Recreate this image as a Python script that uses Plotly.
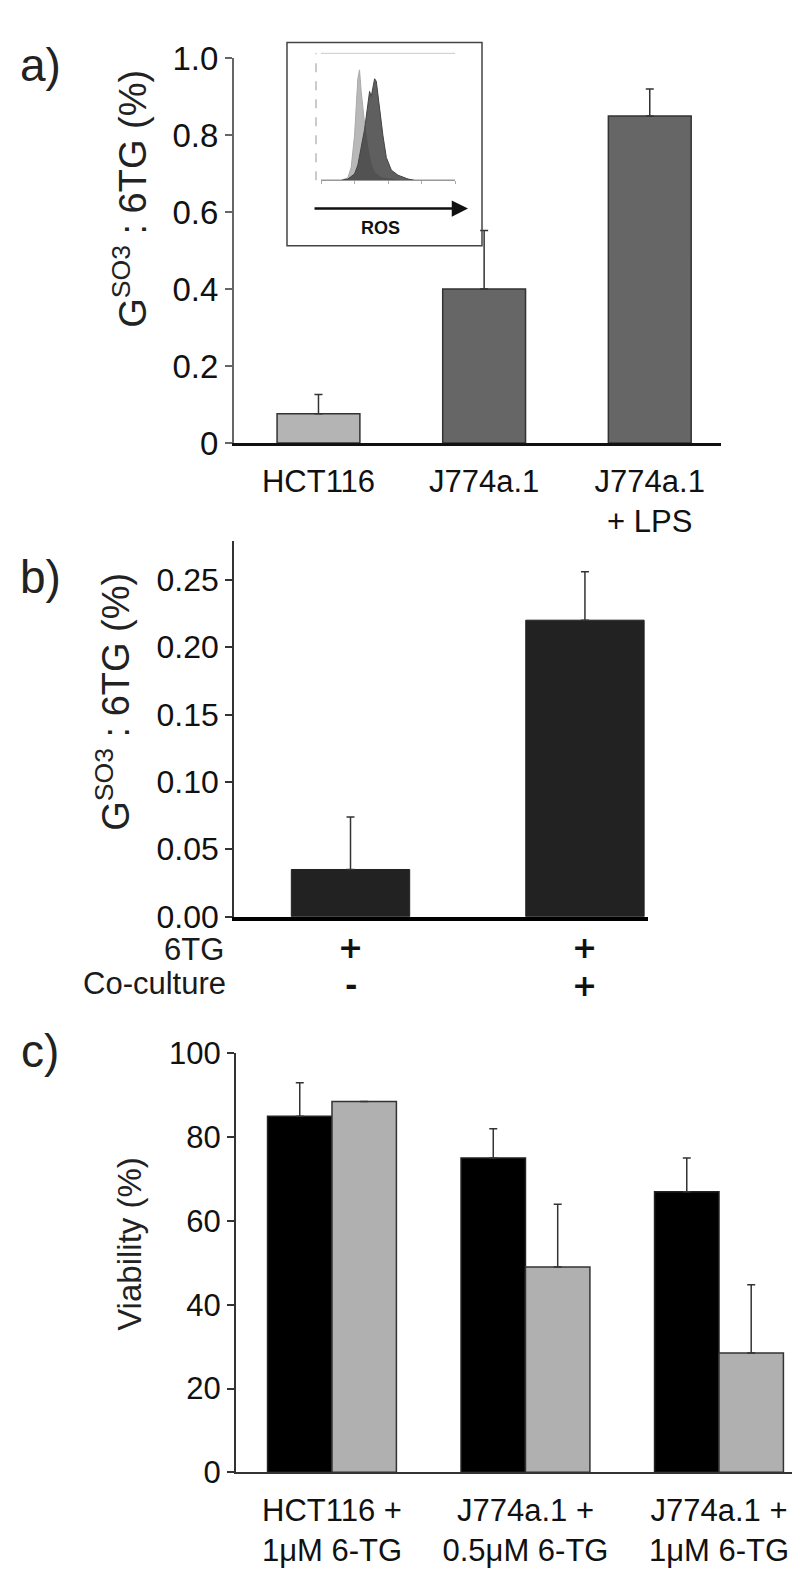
import plotly.graph_objects as go

# ---- data ----
# a) GSO3 : 6TG (%)
cells_a = ["HCT116", "J774a.1", "J774a.1<br>+ LPS"]
gso3_a = [0.076, 0.40, 0.85]
gso3_a_err = [0.05, 0.152, 0.07]
colors_a = ["#b4b4b4", "#666666", "#666666"]
yticks_a = [0, 0.2, 0.4, 0.6, 0.8, 1.0]
yticktext_a = ["0", "0.2", "0.4", "0.6", "0.8", "1.0"]

# inset: ROS flow histogram (log10 fluorescence, normalised counts)
ros_ctrl_x = [0.0, 0.6, 0.8, 0.9, 1.0, 1.05, 1.1, 1.15, 1.2, 1.3, 1.4, 1.5, 1.6, 1.8, 2.0, 2.3, 4.0]
ros_ctrl_y = [0.0, 0.0, 0.02, 0.1, 0.35, 0.6, 0.8, 0.87, 0.7, 0.45, 0.25, 0.12, 0.06, 0.02, 0.01, 0.0, 0.0]
ros_lps_x = [0.0, 0.6, 0.8, 1.0, 1.1, 1.2, 1.3, 1.4, 1.45, 1.5, 1.55, 1.6, 1.65, 1.75, 1.85, 1.95, 2.1, 2.3, 2.6, 2.8, 4.0]
ros_lps_y = [0.0, 0.0, 0.01, 0.05, 0.12, 0.25, 0.4, 0.6, 0.7, 0.66, 0.72, 0.8, 0.78, 0.55, 0.35, 0.18, 0.08, 0.04, 0.01, 0.0, 0.0]

# b) co-culture
samples_b = ["6TG only", "6TG + co-culture"]
sixtg_row = ["+", "+"]
coculture_row = ["-", "+"]
gso3_b = [0.035, 0.22]
gso3_b_err = [0.039, 0.036]
yticks_b = [0, 0.05, 0.10, 0.15, 0.20, 0.25]

# c) viability
groups_c = ["HCT116 +<br>1\u03bcM 6-TG", "J774a.1 +<br>0.5\u03bcM 6-TG", "J774a.1 +<br>1\u03bcM 6-TG"]
viab_black = [85, 75, 67]
viab_black_err = [8, 7, 8]
viab_gray = [88.5, 49, 28.5]
viab_gray_err = [0, 15, 16.3]
yticks_c = [0, 20, 40, 60, 80, 100]

# ---- layout helpers (pixel -> paper) ----
W, H = 800, 1581
FONT = "Liberation Sans, Arial, sans-serif"


def px(x):
    return x / W


def py(y):
    return 1 - y / H


def note(x, y, text, size, **kw):
    fig.add_annotation(x=px(x), y=py(y), xref="paper", yref="paper", text=text, showarrow=False,
                       xanchor=kw.pop("xanchor", "center"), yanchor="middle",
                       font=dict(size=size, color=kw.pop("color", "#1a1a1a")), **kw)


err_style = dict(type="data", symmetric=False, color="#333", thickness=1.5, width=4)

fig = go.Figure()

# a)
fig.add_trace(go.Bar(x=cells_a, y=gso3_a, width=0.5, marker=dict(color=colors_a, line=dict(color="#333", width=1.5)),
                     error_y=dict(array=gso3_a_err, arrayminus=[0] * 3, **err_style), xaxis="x", yaxis="y"))
# b)
fig.add_trace(go.Bar(x=samples_b, y=gso3_b, width=0.505, marker=dict(color="#222222", line=dict(color="#222", width=1)),
                     error_y=dict(array=gso3_b_err, arrayminus=[0] * 2, **err_style), xaxis="x2", yaxis="y2"))
# c)
fig.add_trace(go.Bar(x=groups_c, y=viab_black, width=0.333, offset=-0.333,
                     marker=dict(color="#000000", line=dict(color="#222", width=1.5)),
                     error_y=dict(array=viab_black_err, arrayminus=[0] * 3, **err_style), xaxis="x3", yaxis="y3"))
fig.add_trace(go.Bar(x=groups_c, y=viab_gray, width=0.333, offset=0,
                     marker=dict(color="#b0b0b0", line=dict(color="#333", width=1.5)),
                     error_y=dict(array=viab_gray_err, arrayminus=[0] * 3, **err_style), xaxis="x3", yaxis="y3"))
# inset histograms
fig.add_trace(go.Scatter(x=ros_ctrl_x, y=ros_ctrl_y, mode="lines", fill="tozeroy", line=dict(color="#aaaaaa", width=1),
                         fillcolor="#b8b8b8", xaxis="x4", yaxis="y4"))
fig.add_trace(go.Scatter(x=ros_lps_x, y=ros_lps_y, mode="lines", fill="tozeroy", line=dict(color="#444", width=1),
                         fillcolor="rgba(60,60,60,0.82)", xaxis="x4", yaxis="y4"))

yax_common = dict(showgrid=False, zeroline=False, showline=True, ticks="outside", ticklen=7, tickwidth=1.5)
xax_common = dict(showgrid=False, zeroline=False, showline=True, ticks="", type="category")

fig.update_layout(
    width=W, height=H, margin=dict(l=0, r=0, t=0, b=0),
    paper_bgcolor="white", plot_bgcolor="white", showlegend=False,
    font=dict(family=FONT, color="#111"),
    xaxis=dict(domain=[px(226), px(713)], range=[-0.51, 2.43], anchor="y", linecolor="#111", linewidth=2.5,
               tickfont=dict(size=31), ticklabelstandoff=9, **xax_common),
    yaxis=dict(domain=[py(427), py(33)], range=[0, 1], anchor="x", linecolor="#666", linewidth=2, tickcolor="#666",
               tickvals=yticks_a, ticktext=yticktext_a, tickfont=dict(size=33), **yax_common),
    xaxis2=dict(domain=[px(226), px(640)], range=[-0.497, 1.269], anchor="y2", linecolor="#000", linewidth=3.5,
                showticklabels=False, **xax_common),
    yaxis2=dict(domain=[py(912), py(527)], range=[0, 0.279], anchor="x2", linecolor="#333", linewidth=1.5,
                tickcolor="#333", tickvals=yticks_b, tickformat=".2f", tickfont=dict(size=32), **yax_common),
    xaxis3=dict(domain=[px(228), px(788)], range=[-0.496, 2.398], anchor="y3", linecolor="#333", linewidth=2,
                tickfont=dict(size=31), ticklabelstandoff=9, **xax_common),
    yaxis3=dict(domain=[py(1481), py(1052)], range=[0, 100], anchor="x3", linecolor="#333", linewidth=2,
                tickcolor="#333", tickvals=yticks_c, tickfont=dict(size=31), **yax_common),
    xaxis4=dict(domain=[px(313), px(447)], range=[0, 4], anchor="y4", showgrid=False, zeroline=False, showline=True,
                linecolor="#999", linewidth=1, ticks="outside", ticklen=3, tickcolor="#aaa", tickvals=[0, 1, 2, 3, 4],
                showticklabels=False),
    yaxis4=dict(domain=[py(158), py(28)], range=[0, 1], anchor="x4", showgrid=False, zeroline=False, showline=False,
                showticklabels=False),
)

# inset frame and guide lines
fig.add_shape(type="rect", xref="paper", yref="paper", x0=px(279), x1=px(474), y0=py(225), y1=py(17),
              line=dict(color="#444", width=1.5))
fig.add_shape(type="line", xref="paper", yref="paper", x0=px(308), x1=px(308), y0=py(158), y1=py(28),
              line=dict(color="#bbb", width=1.5, dash="dash"))
fig.add_shape(type="line", xref="paper", yref="paper", x0=px(313), x1=px(447), y0=py(28), y1=py(28),
              line=dict(color="#ccc", width=1))
fig.add_annotation(x=px(460), y=py(187), xref="paper", yref="paper", ax=-155, ay=0, text="", showarrow=True,
                   arrowhead=2, arrowsize=1.3, arrowwidth=2.5, arrowcolor="#111")
note(372, 207, "<b>ROS</b>", 18, color="#111")

# panel letters
for lab, yy in [("a)", 40), ("b)", 564), ("c)", 1050)]:
    note(32, yy, lab, 46, color="#222")

# y titles
note(122, 177, "G<sup>SO3</sup> : 6TG (%)", 38, textangle=-90, color="#222")
note(105, 692, "G<sup>SO3</sup> : 6TG (%)", 38, textangle=-90, color="#222")
note(122, 1247, "Viability (%)", 33, textangle=-90, color="#222")

# treatment table under b)
note(218, 946, "6TG", 31, xanchor="right")
note(220, 980, "Co-culture", 31, xanchor="right")
for s, a, b in zip(samples_b, sixtg_row, coculture_row):
    for sign, yy in [(a, 944), (b, 982)]:
        fig.add_annotation(x=s, y=py(yy), xref="x2", yref="paper", text="<b>%s</b>" % sign, showarrow=False,
                           yanchor="middle", font=dict(family="DejaVu Sans", size=30, color="#111"))

fig.write_html("out.html")
